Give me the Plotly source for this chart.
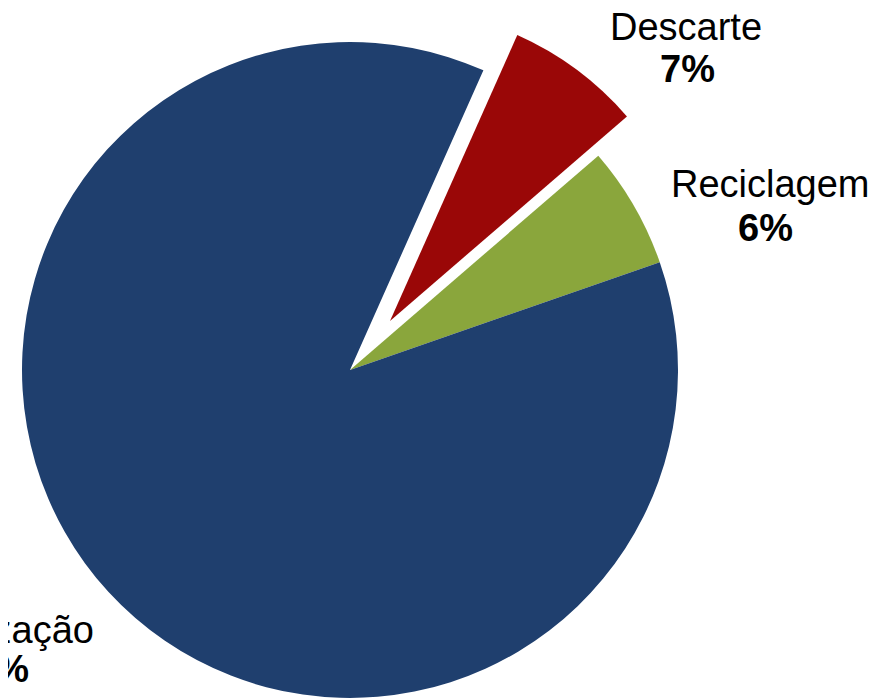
import plotly.graph_objects as go

W, H = 884, 699
OFF = 8  # page body margin offset

labels = ["Descarte", "Reciclagem", "Reutilização"]
values = [7, 6, 87]
pct_text = ["7%", "6%", "87%"]
colors = ["#9A0707", "#8AA63C", "#1F3F6E"]
clear = "rgba(0,0,0,0)"

fig = go.Figure()

# main pie: green + blue (red slice drawn separately, exploded)
bx, by, br = 350 - OFF, 370 - OFF, 328
fig.add_trace(go.Pie(
    labels=labels, values=values, sort=False, direction="clockwise",
    rotation=24, marker=dict(colors=[clear, colors[1], colors[2]], line=dict(width=0)),
    textinfo="none", hoverinfo="label+percent", showlegend=False,
    domain=dict(x=[(bx - br) / W, (bx + br) / W],
                y=[(H - by - br) / H, (H - by + br) / H]),
))

# exploded "Descarte" slice
rx, ry, rr = 390 - OFF, 321 - OFF, 313
fig.add_trace(go.Pie(
    labels=labels, values=values, sort=False, direction="clockwise",
    rotation=24, marker=dict(colors=[colors[0], clear, clear], line=dict(width=0)),
    textinfo="none", hoverinfo="label+percent", showlegend=False,
    domain=dict(x=[(rx - rr) / W, (rx + rr) / W],
                y=[(H - ry - rr) / H, min(1, (H - ry + rr) / H)]),
))

font_reg = dict(family="Liberation Sans, Arial, sans-serif", size=38, color="#000000")

label_pos = [
    # (name x, name yc, pct x, pct yc, xanchor) in screen pixels
    (686, 27, 687, 69, "center"),
    (770, 184, 765, 228, "center"),
    (96, 630, 31, 669, "right"),
]
for (lab, pct, (nx, ny, px, py, xa)) in zip(labels, pct_text, label_pos):
    fig.add_annotation(x=(nx - OFF) / W, y=1 - (ny - OFF) / H, xref="paper", yref="paper",
                       text=lab, showarrow=False, xanchor=xa, yanchor="middle",
                       font=font_reg)
    fig.add_annotation(x=(px - OFF) / W, y=1 - (py - OFF) / H, xref="paper", yref="paper",
                       text="<b>" + pct + "</b>", showarrow=False, xanchor=xa,
                       yanchor="middle", font=font_reg)

fig.update_layout(
    width=W, height=H, margin=dict(l=0, r=0, t=0, b=0),
    paper_bgcolor="white", plot_bgcolor="white",
)

fig.write_html("out.html")
